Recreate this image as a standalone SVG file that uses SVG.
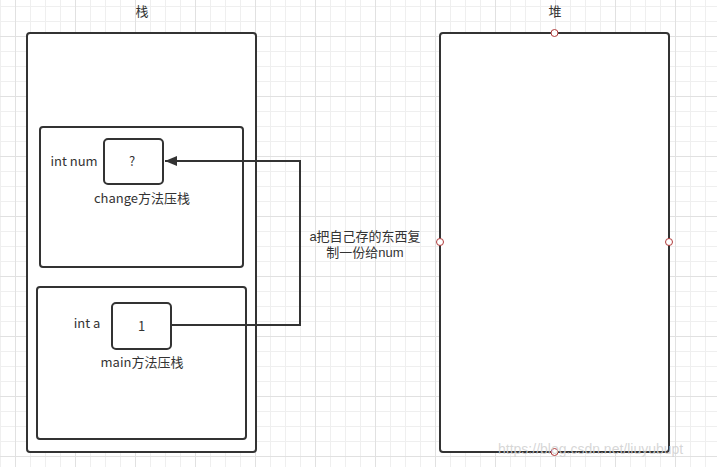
<svg xmlns="http://www.w3.org/2000/svg" width="717" height="467" viewBox="0 0 717 467">
<defs>
<pattern id="gridS" width="15" height="15" patternUnits="userSpaceOnUse" x="0" y="6">
<path d="M0,0.5 H15 M0.5,0 V15" fill="none" stroke="#efefef" stroke-width="1"/>
</pattern>
<pattern id="gridL" width="60" height="60" patternUnits="userSpaceOnUse" x="15" y="36">
<path d="M0,0.5 H60 M0.5,0 V60" fill="none" stroke="#e1e1e1" stroke-width="1"/>
</pattern>
<marker id="arrow" markerWidth="12" markerHeight="10" refX="12" refY="5" orient="auto" markerUnits="userSpaceOnUse">
<path d="M0,0 L12,5 L0,10 z" fill="#333"/>
</marker>
<style>
.box{fill:#fff;stroke:#333;stroke-width:2}
.t{font-family:"Noto Sans CJK SC","Liberation Sans",sans-serif;font-size:13px;fill:#333;text-anchor:middle}
.lb{font-family:"Liberation Sans","Noto Sans CJK SC",sans-serif;font-size:13px;fill:#333;text-anchor:middle}
.pt{fill:#fff;stroke:#b03a3a;stroke-width:1}
.edge{fill:none;stroke:#333;stroke-width:2}
</style>
</defs>
<rect width="717" height="467" fill="#fff"/>
<rect width="717" height="467" fill="url(#gridS)"/>
<rect width="717" height="467" fill="url(#gridL)"/>

<g id="stack-title"><text class="t" x="142" y="16">栈</text></g>
<g id="heap-title"><text class="t" x="555" y="16">堆</text></g>

<g id="stack"><rect class="box" x="27" y="33" width="229" height="419" rx="3"/></g>

<g id="heap">
<rect class="box" x="440" y="33" width="229" height="419" rx="3"/>
<circle class="pt" cx="554.5" cy="33" r="3.5"/>
<circle class="pt" cx="554.5" cy="452" r="3.5"/>
<circle class="pt" cx="440" cy="242" r="3.5"/>
<circle class="pt" cx="669" cy="242" r="3.5"/>
</g>

<g id="change-frame">
<rect class="box" x="40" y="127" width="203" height="140" rx="3"/>
<text class="t" x="142" y="203">change方法压栈</text>
</g>

<g id="num-box">
<text class="t" x="74" y="166">int num</text>
<rect class="box" x="104" y="139" width="59" height="45" rx="4"/>
<text class="t" x="132" y="166">?</text>
</g>

<g id="main-frame">
<rect class="box" x="37" y="287" width="209" height="152" rx="3"/>
<text class="t" x="142" y="367">main方法压栈</text>
</g>

<g id="a-box">
<text class="t" x="87" y="328">int a</text>
<rect class="box" x="112" y="303" width="59" height="46" rx="4"/>
<text class="t" x="141.5" y="331">1</text>
</g>

<g id="connectors">
<path class="edge" d="M171,325 H300 V161 H165" marker-end="url(#arrow)"/>
</g>

<g id="edge-label">
<text class="lb" x="365" y="241">a把自己存的东西复</text>
<text class="lb" x="365" y="257">制一份给num</text>
</g>

<text x="498" y="454" font-family="'Liberation Sans',Arial,sans-serif" font-size="14" fill="#cfcfcf" fill-opacity="0.85">https://blog.csdn.net/liuyubupt</text>
</svg>
